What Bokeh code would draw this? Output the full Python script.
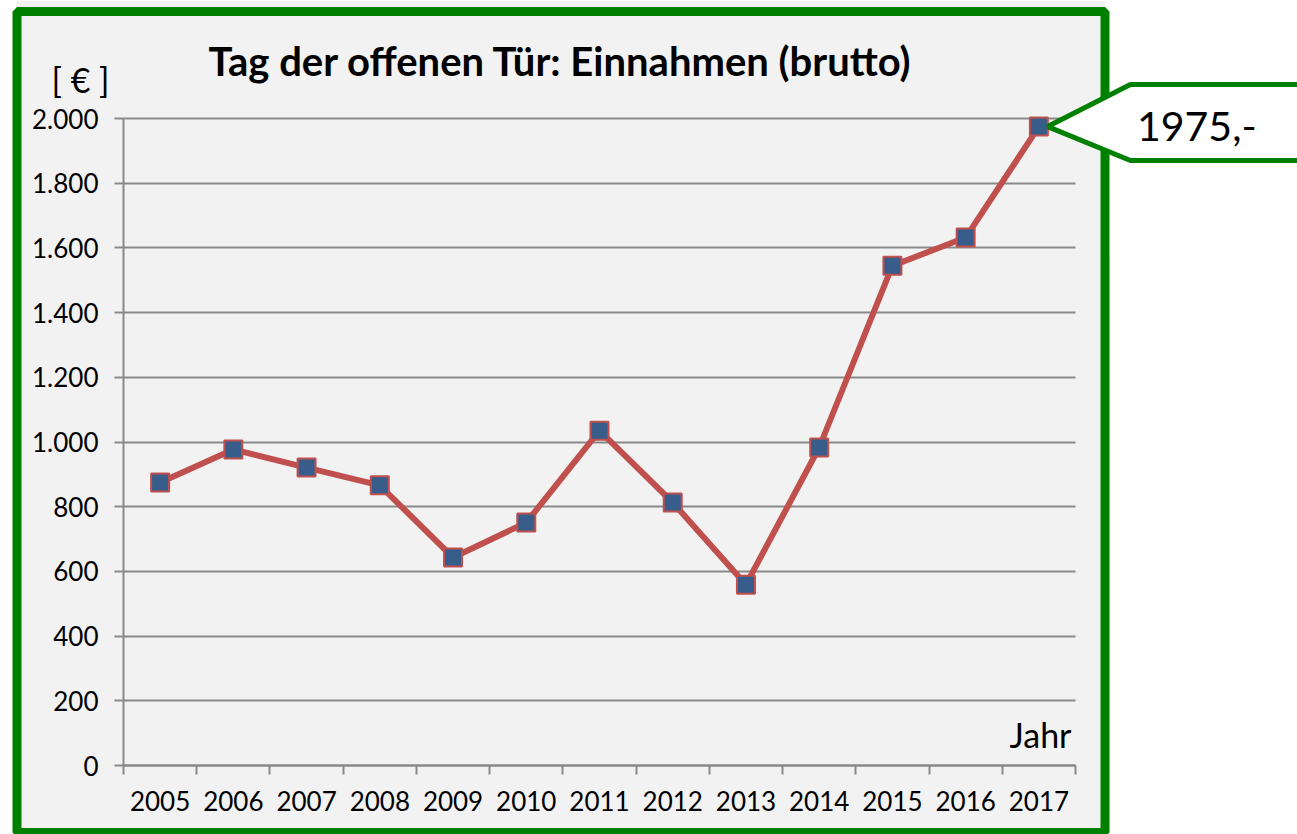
from bokeh.plotting import figure
from bokeh.models import (Range1d, FixedTicker, BoxAnnotation, PolyAnnotation,
                          Label, ColumnDataSource)
from bokeh.embed import file_html
from bokeh.resources import INLINE

# ---- data ----
years = ["2005", "2006", "2007", "2008", "2009", "2010", "2011",
         "2012", "2013", "2014", "2015", "2016", "2017"]
einnahmen = [875, 977, 921, 866, 643, 751, 1035, 813, 559, 983, 1545, 1632, 1975]
y_ticks = [0, 200, 400, 600, 800, 1000, 1200, 1400, 1600, 1800, 2000]
y_tick_labels = ["0", "200", "400", "600", "800", "1.000", "1.200",
                 "1.400", "1.600", "1.800", "2.000"]
title_text = "Tag der offenen Tür: Einnahmen (brutto)"
y_unit = "[ € ]"
x_name = "Jahr"

# ---- layout / style ----
FONT = "Lato"
GREEN = "#008000"
GRID = "#898989"
W, H = 1297, 834
PL, PR, PT, PB = 123, 1075, 118, 765     # plot area in pixels

n = len(years)
ymax = y_ticks[-1]
xpx = (PR - PL) / n
ypx = (PB - PT) / ymax
x_range = Range1d(-PL / xpx, n + (W - PR) / xpx)
y_range = Range1d(-(H - PB) / ypx, ymax + PT / ypx)

xs = [i + 0.5 for i in range(n)]
src = ColumnDataSource(dict(x=xs, y=einnahmen, year=years))

p = figure(width=W, height=H, output_backend="svg", toolbar_location=None,
           x_range=x_range, y_range=y_range, min_border=0,
           background_fill_color="white", border_fill_color="white",
           outline_line_color=None)

# inner background of the green-framed chart
p.add_layout(BoxAnnotation(left=16, right=1105, top=0, bottom=H,
                           left_units="canvas", right_units="canvas",
                           top_units="canvas", bottom_units="canvas",
                           fill_color="#f2f2f2", fill_alpha=1,
                           line_color=None, level="image"))

# grid
p.xgrid.visible = False
p.ygrid.ticker = FixedTicker(ticks=y_ticks)
p.ygrid.bounds = (0, ymax)
p.ygrid.cross_bounds = (0, n)
p.ygrid.grid_line_color = GRID
p.ygrid.grid_line_width = 2

# y axis
yax = p.yaxis[0]
yax.fixed_location = 0
yax.bounds = (0, ymax)
yax.ticker = FixedTicker(ticks=y_ticks)
yax.major_label_overrides = {t: l for t, l in zip(y_ticks, y_tick_labels)}
yax.axis_line_color = GRID
yax.axis_line_width = 2
yax.major_tick_line_color = GRID
yax.major_tick_line_width = 2
yax.major_tick_out = 9
yax.major_tick_in = 0
yax.minor_tick_line_color = None
yax.major_label_text_font = FONT
yax.major_label_text_font_size = "26px"
yax.major_label_text_color = "black"
yax.major_label_standoff = 16

# x axis
xax = p.xaxis[0]
xax.fixed_location = 0
xax.bounds = (0, n)
xax.ticker = FixedTicker(ticks=xs, minor_ticks=list(range(n + 1)))
xax.major_label_overrides = {x: y for x, y in zip(xs, years)}
xax.axis_line_color = GRID
xax.axis_line_width = 2
xax.major_tick_line_color = None
xax.major_tick_out = 0
xax.major_tick_in = 0
xax.minor_tick_line_color = GRID
xax.minor_tick_line_width = 2
xax.minor_tick_out = 9
xax.minor_tick_in = 0
xax.major_label_text_font = FONT
xax.major_label_text_font_size = "26px"
xax.major_label_text_color = "black"
xax.major_label_standoff = 16

# data
p.line("x", "y", source=src, line_color="#c0504d", line_width=6)
p.scatter("x", "y", source=src, marker="square", size=18,
          fill_color="#385d8a", line_color="#c0504d", line_width=2)

# texts
p.add_layout(Label(x=560, y=60, x_units="canvas", y_units="canvas",
                   text=title_text, text_font=FONT, text_font_style="bold",
                   text_font_size="40px", text_align="center",
                   text_baseline="middle", text_color="black"))
p.add_layout(Label(x=80, y=79, x_units="canvas", y_units="canvas",
                   text=y_unit, text_font=FONT, text_font_size="34px",
                   text_align="center", text_baseline="middle",
                   text_color="black"))
p.add_layout(Label(x=1071, y=734, x_units="canvas", y_units="canvas",
                   text=x_name, text_font=FONT, text_font_size="34px",
                   text_align="right", text_baseline="alphabetic",
                   text_color="black"))

# green frame
p.add_layout(BoxAnnotation(left=16.5, right=1104.5, top=11, bottom=832,
                           left_units="canvas", right_units="canvas",
                           top_units="canvas", bottom_units="canvas",
                           fill_color=None, fill_alpha=0,
                           line_color=GREEN, line_width=9, line_alpha=1,
                           level="overlay"))

# callout for last value
lx, ly = xs[-1], einnahmen[-1]
p.add_layout(PolyAnnotation(
    xs=[lx + 0.12, lx + 1.25, lx + 3.7, lx + 3.7, lx + 1.25],
    ys=[ly, ly + 130, ly + 130, ly - 105, ly - 105],
    fill_color="white", fill_alpha=1, line_color=GREEN, line_width=5,
    line_alpha=1, level="overlay"))
p.add_layout(Label(x=lx + 1.34, y=ly, text=f"{ly},-", text_font=FONT,
                   text_font_size="41px", text_align="left",
                   text_baseline="middle", text_color="black",
                   level="overlay"))

open("out.html", "w").write(file_html(p, INLINE))
